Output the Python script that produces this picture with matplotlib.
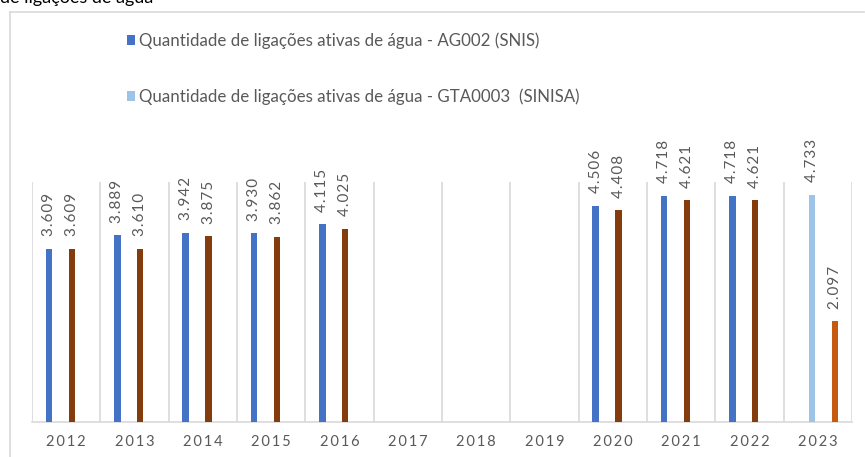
import matplotlib
matplotlib.use('Agg')
import matplotlib.pyplot as plt
from matplotlib.lines import Line2D
import numpy as np

# dados (quantidade de ligações, valores em unidades)
anos = ['2012', '2013', '2014', '2015', '2016', '2017', '2018', '2019', '2020', '2021', '2022', '2023']
ag002_snis = [3609, 3889, 3942, 3930, 4115, None, None, None, 4506, 4718, 4718, None]
gta0003_sinisa = [None, None, None, None, None, None, None, None, None, None, None, 4733]
serie_marrom = [3609, 3610, 3875, 3862, 4025, None, None, None, 4408, 4621, 4621, None]
serie_laranja = [None, None, None, None, None, None, None, None, None, None, None, 2097]

nome_ag002 = 'Quantidade de ligações ativas de água - AG002 (SNIS)'
nome_gta = 'Quantidade de ligações ativas de água - GTA0003  (SINISA)'

# estilo
cinza_txt = '#595959'
cinza_linha = '#D9D9D9'
plt.rcParams['font.family'] = ['Lato', 'DejaVu Sans']

W, H = 865, 457
fig = plt.figure(figsize=(W / 100, H / 100), dpi=100, facecolor='w')
ax = fig.add_axes([32 / W, (H - 422) / H, (852 - 32) / W, (422 - 182) / H])

series = [
    (ag002_snis, '#4472C4', nome_ag002),
    (gta0003_sinisa, '#9DC3E6', nome_gta),
    (serie_marrom, '#843C0C', None),
    (serie_laranja, '#C55A11', None),
]
slot = 0.167   # espaço de cada série dentro do ano
largura = 0.095  # largura da barra
idx = np.arange(len(anos))
handles = []
for i, (valores, cor, nome) in enumerate(series):
    desloc = (i - 1.5) * slot
    xs = [x + desloc for x, v in zip(idx, valores) if v is not None]
    ys = [v for v in valores if v is not None]
    b = ax.bar(xs, ys, largura, color=cor, zorder=3)
    if nome:
        handles.append((b, nome))
    for x, v in zip(xs, ys):
        rotulo = '\u200a'.join('{:,}'.format(v).replace(',', '.'))
        ax.annotate(rotulo, (x, v), xytext=(0, 9), textcoords='offset points',
                    rotation=90, ha='center', va='bottom', fontsize=11,
                    color=cinza_txt)

ax.set_xlim(-0.5, len(anos) - 0.5)
ax.set_ylim(0, 5000)
ax.set_yticks([])
ax.set_xticks(idx)
ax.set_xticklabels(['\u2009'.join(a) for a in anos], fontsize=10.5, color=cinza_txt)
ax.set_xticks(np.arange(-0.5, len(anos)), minor=True)
ax.tick_params(axis='x', which='both', length=0, pad=9)
ax.grid(axis='x', which='minor', color=cinza_linha, linewidth=1.2, zorder=0)
for lado in ('top', 'left', 'right'):
    ax.spines[lado].set_visible(False)
ax.spines['bottom'].set_color(cinza_linha)
ax.spines['bottom'].set_linewidth(1.2)

# legenda (só as duas primeiras séries)
leg = fig.legend([h for h, n in handles], [n for h, n in handles],
                 loc='upper left', bbox_to_anchor=(120 / W, 1 - 26 / H),
                 frameon=False, fontsize=12.2, labelcolor=cinza_txt,
                 handlelength=0.5, handleheight=0.5, handletextpad=0.2,
                 labelspacing=2.3, borderaxespad=0)

# moldura da área do gráfico
fig.add_artist(Line2D([10 / W, 10 / W], [0, 1 - 12 / H], color=cinza_linha, lw=1.2))
fig.add_artist(Line2D([10 / W, 864 / W], [1 - 12 / H, 1 - 12 / H], color=cinza_linha, lw=1.2))

# título cortado no topo (como no original)
fig.text(0.0, 1 - 3 / H, 'de ligações de água', fontsize=13, color='black',
         ha='left', va='baseline')

fig.savefig('out.png', dpi=100)
